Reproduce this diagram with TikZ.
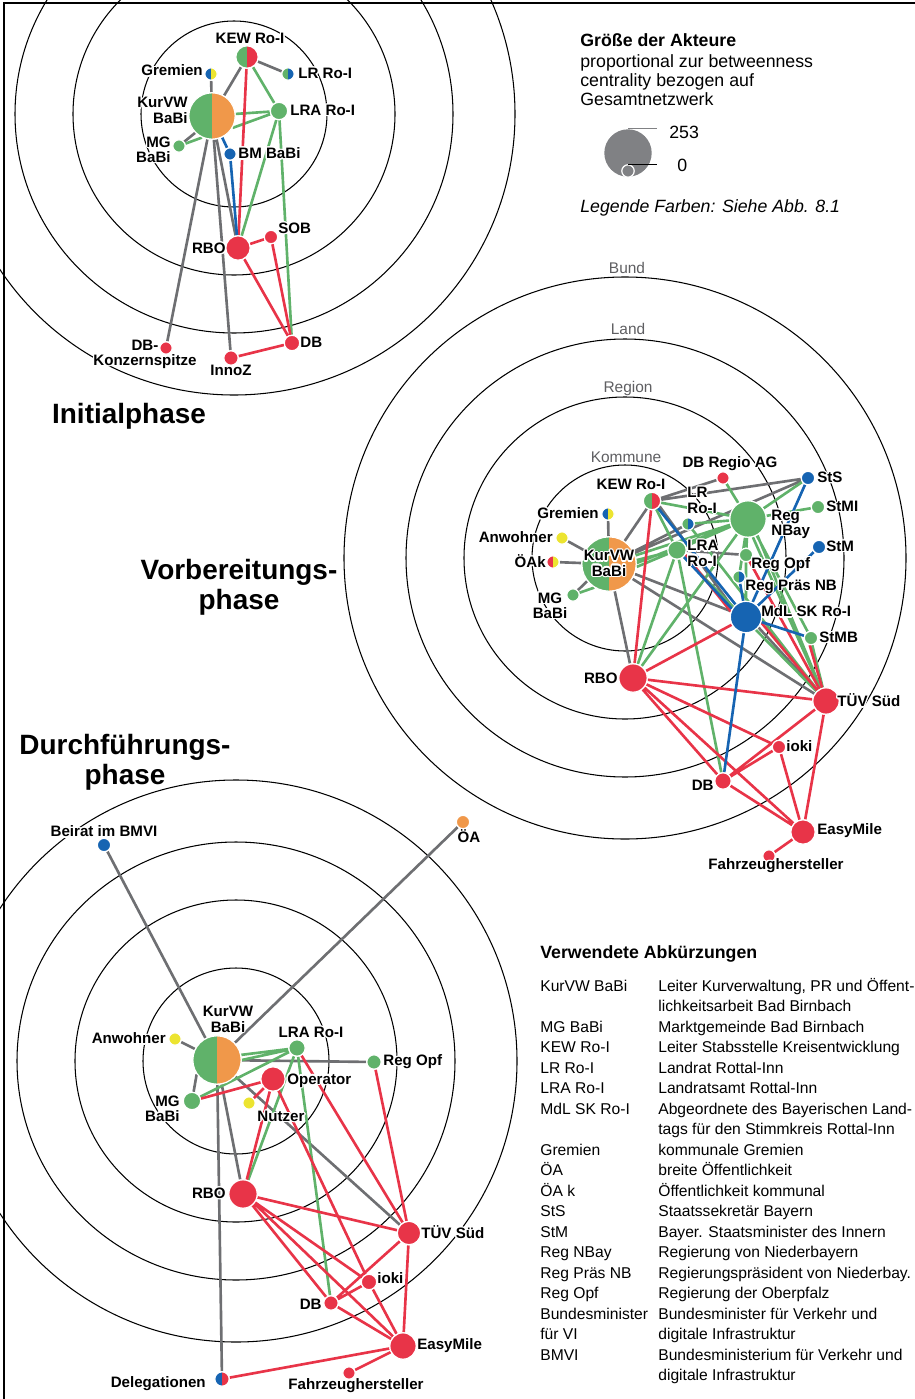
\documentclass[tikz,border=0pt]{standalone}
\usepackage{fontspec}
\setmainfont{Liberation Sans}
\usepackage{contour}
\contourlength{0.7pt}
\usetikzlibrary{backgrounds}

\definecolor{grau}{RGB}{110,111,114}
\definecolor{rot}{RGB}{232,52,72}
\definecolor{gruen}{RGB}{96,178,106}
\definecolor{blau}{RGB}{22,100,178}
\definecolor{orng}{RGB}{240,152,74}
\definecolor{gelb}{RGB}{236,228,48}
\definecolor{lgrau}{RGB}{128,129,132}
\definecolor{txtgrau}{RGB}{95,95,98}

\newcommand\hl[1]{\contour{white}{#1}}

\tikzset{
  akt/.style={circle, inner sep=0pt, draw=white, line width=0.7pt, minimum size=(#1+1.2)*0.4mm},
  halb/.style 2 args={fill=#1, path picture={\fill[#2] (path picture bounding box.south) rectangle (path picture bounding box.north east);}},
  lab/.style={font=\fontsize{8.6}{8.6}\selectfont\bfseries, inner sep=0pt, align=center},
  kante/.style={line width=1.5pt, draw=#1},
  bahn/.style={line width=0.6pt},
  bahnlab/.style={font=\fontsize{8.8}{9}\selectfont, text=txtgrau, inner sep=0pt},
  phase/.style={font=\fontsize{15.9}{17}\selectfont\bfseries, inner sep=0pt, align=center},
  leg/.style={font=\fontsize{10.1}{11}\selectfont, inner sep=0pt},
  abk/.style={font=\fontsize{8.9}{10}\selectfont, inner sep=0pt},
}

\begin{document}
\begin{tikzpicture}[x=0.02cm, y=-0.02cm]
  \useasboundingbox (0,0) rectangle (915,1399);
  \draw[line width=1.6pt] (4,1399) -- (4,3) -- (915,3);

  % Initialphase
  \node[akt=22, halb={gruen}{orng}] (aKur) at (212,116) {};
  \node[akt=10, halb={gruen}{rot}] (aKEW) at (247,57) {};
  \node[akt=5, halb={blau}{gelb}] (aGre) at (211,74) {};
  \node[akt=5, halb={gruen}{blau}] (aLR) at (288,74) {};
  \node[akt=7.5, fill=gruen] (aLRA) at (279,111) {};
  \node[akt=5, fill=gruen] (aMG) at (179,146) {};
  \node[akt=5, fill=blau] (aBM) at (230,154) {};
  \node[akt=11, fill=rot] (aRBO) at (238,248) {};
  \node[akt=5.5, fill=rot] (aSOB) at (271,237) {};
  \node[akt=6.5, fill=rot] (aDB) at (292,343) {};
  \node[akt=6, fill=rot] (aInno) at (231,358) {};
  \node[akt=5, fill=rot] (aDBK) at (166,348) {};

  \node[lab] (taKEW) at (250,39) {\hl{KEW Ro-I}};
  \node[lab, anchor=east] (taGre) at (203,71) {\hl{Gremien}};
  \node[lab, anchor=west] (taLR) at (298,74) {\hl{LR Ro-I}};
  \node[lab, anchor=east, align=right] (taKur) at (188,111) {\hl{KurVW}\\\hl{BaBi}};
  \node[lab, anchor=west] (taLRA) at (290,111) {\hl{LRA Ro-I}};
  \node[lab, anchor=east, align=right] (taMG) at (171,150) {\hl{MG}\\\hl{BaBi}};
  \node[lab, anchor=west] (taBM) at (238,154) {\hl{BM BaBi}};
  \node[lab, anchor=east] (taRBO) at (226,249) {\hl{RBO}};
  \node[lab, anchor=west] (taSOB) at (278,229) {\hl{SOB}};
  \node[lab, anchor=west] (taDB) at (300,343) {\hl{DB}};
  \node[lab] (taInno) at (231,371) {\hl{InnoZ}};
  \node[lab] (taDBK) at (145,355) {\hl{DB-}\\\hl{Konzernspitze}};
  \node[phase] (ini) at (129,416) {Initialphase};

  % Vorbereitungsphase
  \node[akt=26, halb={gruen}{orng}] (bKur) at (609,564) {};
  \node[akt=7.5, halb={gruen}{rot}] (bKEW) at (652,501) {};
  \node[akt=5, halb={blau}{gelb}] (bGre) at (608,514) {};
  \node[akt=5, fill=gelb] (bAnw) at (562,538) {};
  \node[akt=5, halb={rot}{gelb}] (bOAk) at (553,562) {};
  \node[akt=5, fill=gruen] (bMG) at (573,595) {};
  \node[akt=5, halb={gruen}{blau}] (bLR) at (688,524) {};
  \node[akt=8, fill=gruen] (bLRA) at (677,550) {};
  \node[akt=17, fill=gruen] (bNBay) at (748,519) {};
  \node[akt=5, fill=rot] (bDBR) at (723,478) {};
  \node[akt=5.5, fill=blau] (bStS) at (808,478) {};
  \node[akt=5.5, fill=gruen] (bStMI) at (818,507) {};
  \node[akt=5.5, fill=blau] (bStM) at (819,547) {};
  \node[akt=5.5, fill=gruen] (bOpf) at (746,555) {};
  \node[akt=5, halb={gruen}{blau}] (bPras) at (739,577) {};
  \node[akt=14.5, fill=blau] (bMdL) at (746,617) {};
  \node[akt=5.5, fill=gruen] (bStMB) at (811,638) {};
  \node[akt=12, fill=rot] (bTUV) at (826,701) {};
  \node[akt=13, fill=rot] (bRBO) at (633,678) {};
  \node[akt=5.5, fill=rot] (bioki) at (779,747) {};
  \node[akt=7, fill=rot] (bDB) at (723,781) {};
  \node[akt=11, fill=rot] (bEasy) at (803,832) {};
  \node[akt=5, fill=rot] (bFzh) at (769,856) {};

  \node[bahnlab] (bund) at (627,268) {Bund};
  \node[bahnlab] (land) at (628,329) {Land};
  \node[bahnlab] (region) at (628,388) {Region};
  \node[bahnlab] (kommune) at (626,457) {Kommune};

  \node[lab] (tbKEW) at (631,485) {\hl{KEW Ro-I}};
  \node[lab, anchor=east] (tbGre) at (599,514) {\hl{Gremien}};
  \node[lab, anchor=east] (tbAnw) at (553,538) {\hl{Anwohner}};
  \node[lab, anchor=east] (tbOAk) at (546,562) {\hl{ÖAk}};
  \node[lab] (tbMG) at (550,606) {\hl{MG}\\\hl{BaBi}};
  \node[lab] (tbKur) at (609,564) {\hl{KurVW}\\\hl{BaBi}};
  \node[lab, anchor=west, align=left] (tbLR) at (687,501) {\hl{LR}\\\hl{Ro-I}};
  \node[lab, anchor=west, align=left] (tbLRA) at (687,554) {\hl{LRA}\\\hl{Ro-I}};
  \node[lab] (tbDBR) at (730,464) {\hl{DB Regio AG}};
  \node[lab, anchor=west] (tbStS) at (817,478) {\hl{StS}};
  \node[lab, anchor=west] (tbStMI) at (826,507) {\hl{StMI}};
  \node[lab, anchor=west, align=left] (tbNBay) at (771,525) {\hl{Reg}\\\hl{NBay}};
  \node[lab, anchor=west] (tbStM) at (826,547) {\hl{StM}};
  \node[lab, anchor=west] (tbOpf) at (751,565) {\hl{Reg Opf}};
  \node[lab, anchor=west] (tbPras) at (745,587) {\hl{Reg Präs NB}};
  \node[lab, anchor=west] (tbMdL) at (761,612) {\hl{MdL SK Ro-I}};
  \node[lab, anchor=west] (tbStMB) at (819,638) {\hl{StMB}};
  \node[lab, anchor=west] (tbTUV) at (837,701) {\hl{TÜV Süd}};
  \node[lab, anchor=east] (tbRBO) at (618,679) {\hl{RBO}};
  \node[lab, anchor=west] (tbioki) at (786,747) {\hl{ioki}};
  \node[lab, anchor=east] (tbDB) at (714,786) {\hl{DB}};
  \node[lab, anchor=west] (tbEasy) at (817,831) {\hl{EasyMile}};
  \node[lab] (tbFzh) at (776,866) {\hl{Fahrzeughersteller}};
  \node[phase] (vorb) at (239,587) {Vorbereitungs-\\phase};

  % Durchfuehrungsphase
  \node[akt=23, halb={gruen}{orng}] (cKur) at (217,1060) {};
  \node[akt=5.5, fill=blau] (cBei) at (104,845) {};
  \node[akt=5.5, fill=orng] (cOA) at (463,822) {};
  \node[akt=5, fill=gelb] (cAnw) at (175,1039) {};
  \node[akt=7, fill=gruen] (cLRA) at (297,1048) {};
  \node[akt=6, fill=gruen] (cOpf) at (374,1062) {};
  \node[akt=11, fill=rot] (cOpr) at (273,1079) {};
  \node[akt=7.5, fill=gruen] (cMG) at (192,1101) {};
  \node[akt=5, fill=gelb] (cNutz) at (249,1103) {};
  \node[akt=13, fill=rot] (cRBO) at (243,1194) {};
  \node[akt=10.5, fill=rot] (cTUV) at (409,1233) {};
  \node[akt=6.5, fill=rot] (cioki) at (369,1282) {};
  \node[akt=6, fill=rot] (cDB) at (331,1303) {};
  \node[akt=12, fill=rot] (cEasy) at (403,1346) {};
  \node[akt=5, fill=rot] (cFzh) at (349,1373) {};
  \node[akt=6, halb={blau}{rot}] (cDel) at (222,1379) {};

  \node[lab] (tcBei) at (104,832) {\hl{Beirat im BMVI}};
  \node[lab] (tcOA) at (469,837) {\hl{ÖA}};
  \node[lab, anchor=east] (tcAnw) at (166,1039) {\hl{Anwohner}};
  \node[lab] (tcKur) at (228,1020) {\hl{KurVW}\\\hl{BaBi}};
  \node[lab] (tcLRA) at (311,1033) {\hl{LRA Ro-I}};
  \node[lab, anchor=west] (tcOpf) at (383,1062) {\hl{Reg Opf}};
  \node[lab, anchor=west] (tcOpr) at (287,1081) {\hl{Operator}};
  \node[lab, anchor=east, align=right] (tcMG) at (180,1109) {\hl{MG}\\\hl{BaBi}};
  \node[lab] (tcNutz) at (281,1117) {\hl{Nutzer}};
  \node[lab, anchor=east] (tcRBO) at (226,1194) {\hl{RBO}};
  \node[lab, anchor=west] (tcTUV) at (421,1233) {\hl{TÜV Süd}};
  \node[lab, anchor=west] (tcioki) at (377,1279) {\hl{ioki}};
  \node[lab, anchor=east] (tcDB) at (322,1305) {\hl{DB}};
  \node[lab, anchor=west] (tcEasy) at (417,1346) {\hl{EasyMile}};
  \node[lab] (tcFzh) at (356,1386) {\hl{Fahrzeughersteller}};
  \node[lab, anchor=east] (tcDel) at (206,1384) {\hl{Delegationen}};
  \node[phase] (durch) at (125,762) {Durchführungs-\\phase};

  \begin{pgfonlayer}{background}
    \begin{scope}
      \clip (0,0) rectangle (915,1399);
      \foreach \mx/\my in {234/114, 625/558, 236/1061}
        \foreach \r in {93,161,219,281}
          \draw[bahn] (\mx,\my) circle (\r);
    \end{scope}

    % Kanten Initialphase
    \draw[kante=grau] (aKur) -- (aKEW) (aKEW) -- (aLR) (aKur) -- (aGre) (aKur.225) -- (aMG)
      (aKur) -- (aDBK) (aKur) -- (aInno) (aKur) -- (aRBO);
    \draw[kante=gruen] (aKur.245) -- (aMG) (aKEW) -- (aLRA) (aKur.5) -- (aLRA) (aKur.-30) -- (aLRA)
      (aLRA) -- (aRBO) (aLRA) -- (aDB);
    \draw[kante=rot] (aKEW) -- (aRBO) (aRBO) -- (aSOB) (aRBO) -- (aDB) (aSOB) -- (aDB) (aInno) -- (aDB);
    \draw[kante=blau] (aKur) -- (aBM) (aBM) -- (aRBO);

    % Kanten Vorbereitungsphase
    \draw[kante=grau] (bKur) -- (bGre) (bKur) -- (bAnw) (bKur) -- (bOAk) (bKur.218) -- (bMG)
      (bKur) -- (bKEW) (bKur) -- (bLR) (bKur) -- (bStS) (bKur) -- (bMdL) (bKur) -- (bTUV)
      (bKur) -- (bRBO) (bKEW) -- (bDBR) (bKEW) -- (bStS) (bKEW.-35) -- (bMdL.145)
      (bLRA) -- (bOpf) (bMdL.-40) -- (bTUV);
    \draw[kante=gruen] (bKur.238) -- (bMG) (bKur.8) -- (bLRA) (bKur.-6) -- (bLRA)
      (bKur.18) -- (bNBay) (bKur.2) -- (bNBay) (bKEW) -- (bLRA) (bKEW) -- (bNBay)
      (bLR) -- (bNBay) (bLRA) -- (bNBay) (bLRA) -- (bRBO) (bLRA) -- (bDB) (bLRA) -- (bTUV)
      (bNBay) -- (bDBR) (bNBay) -- (bStS) (bNBay) -- (bStMI) (bNBay) -- (bOpf) (bNBay) -- (bPras)
      (bNBay) -- (bRBO) (bNBay) -- (bStMB) (bNBay.-60) -- (bTUV) (bNBay.-75) -- (bTUV)
      (bStMB.-80) -- (bTUV) (bOpf) -- (bMdL) (bLR) -- (bTUV);
    \draw[kante=rot] (bKEW) -- (bRBO) (bRBO) -- (bMdL) (bRBO) -- (bTUV) (bRBO) -- (bioki)
      (bRBO.-50) -- (bDB) (bRBO.-40) -- (bEasy) (bTUV) -- (bDB) (bTUV) -- (bEasy)
      (bioki) -- (bDB) (bioki) -- (bEasy) (bDB) -- (bEasy) (bEasy) -- (bFzh)
      (bMdL.-20) -- (bTUV) (bLRA.-30) -- (bMdL.160) (bOpf) -- (bTUV) (bStMB.-100) -- (bTUV);
    \draw[kante=blau] (bKEW.-50) -- (bMdL.130) (bLRA.-45) -- (bMdL.150) (bMdL) -- (bStS)
      (bMdL) -- (bStM) (bMdL) -- (bStMB) (bMdL) -- (bDB) (bMdL) -- (bPras);

    % Kanten Durchfuehrungsphase
    \draw[kante=grau] (cKur) -- (cBei) (cKur) -- (cOA) (cKur) -- (cAnw) (cKur) -- (cOpf)
      (cKur.215) -- (cMG) (cKur) -- (cRBO) (cKur) -- (cDel) (cKur) -- (cTUV);
    \draw[kante=gruen] (cKur.12) -- (cLRA) (cKur.0) -- (cLRA) (cMG) -- (cLRA) (cLRA) -- (cRBO)
      (cLRA) -- (cDB);
    \draw[kante=rot] (cMG) -- (cOpr) (cOpr) -- (cNutz) (cOpr) -- (cRBO) (cOpr) -- (cioki)
      (cLRA) -- (cTUV) (cOpf) -- (cTUV) (cRBO) -- (cTUV) (cRBO) -- (cioki) (cRBO.-50) -- (cDB)
      (cRBO.-40) -- (cEasy) (cTUV) -- (cDB) (cTUV) -- (cEasy) (cioki) -- (cDB) (cioki) -- (cEasy)
      (cDB) -- (cEasy) (cEasy) -- (cDel) (cEasy) -- (cFzh);
  \end{pgfonlayer}

  % Legende
  \node[leg, font=\fontsize{10.1}{11}\selectfont\bfseries, anchor=base west] (lgt) at (580,47) {Größe der Akteure};
  \foreach [count=\i] \z in {proportional zur betweenness, centrality bezogen auf, Gesamtnetzwerk}
    \node[leg, anchor=base west] (lg\i) at (580,{68+19*(\i-1)}) {\z};
  \node[akt=22.5, fill=lgrau, draw=none] (gross) at (628,153) {};
  \node[akt=5, fill=lgrau] (klein) at (628,171) {};
  \draw[lgrau, line width=0.7pt] (gross.north) -- +(29,0);
  \draw[line width=0.7pt] (klein.north) -- +(29,0);
  \node[leg, anchor=base west] (z253) at (669,138) {253};
  \node[leg, anchor=base west] (z0) at (677,172) {0};
  \node[leg, font=\fontsize{10.1}{11}\selectfont\itshape, anchor=base west] (farb) at (580,212) {Legende Farben: Siehe Abb. 8.1};

  % Abkuerzungen
  \node[font=\fontsize{10.1}{11}\selectfont\bfseries, inner sep=0pt, anchor=base west] (abkt) at (540,958) {Verwendete Abkürzungen};
  \foreach [count=\i] \k/\e in {
      KurVW BaBi/{Leiter Kurverwaltung, PR und Öffent-},
      /lichkeitsarbeit Bad Birnbach,
      MG BaBi/Marktgemeinde Bad Birnbach,
      KEW Ro-I/Leiter Stabsstelle Kreisentwicklung,
      LR Ro-I/Landrat Rottal-Inn,
      LRA Ro-I/Landratsamt Rottal-Inn,
      MdL SK Ro-I/Abgeordnete des Bayerischen Land-,
      /tags für den Stimmkreis Rottal-Inn,
      Gremien/kommunale Gremien,
      ÖA/breite Öffentlichkeit,
      ÖA k/Öffentlichkeit kommunal,
      StS/Staatssekretär Bayern,
      StM/Bayer. Staatsminister des Innern,
      Reg NBay/Regierung von Niederbayern,
      Reg Präs NB/Regierungspräsident von Niederbay.,
      Reg Opf/Regierung der Oberpfalz,
      Bundesminister/Bundesminister für Verkehr und,
      für VI/digitale Infrastruktur,
      BMVI/Bundesministerium für Verkehr und,
      /digitale Infrastruktur}
  {
    \node[abk, anchor=base west] (k\i) at (540,{991+20.5*(\i-1)}) {\k};
    \node[abk, anchor=base west] (e\i) at (658,{991+20.5*(\i-1)}) {\e};
  }
\end{tikzpicture}
\end{document}
